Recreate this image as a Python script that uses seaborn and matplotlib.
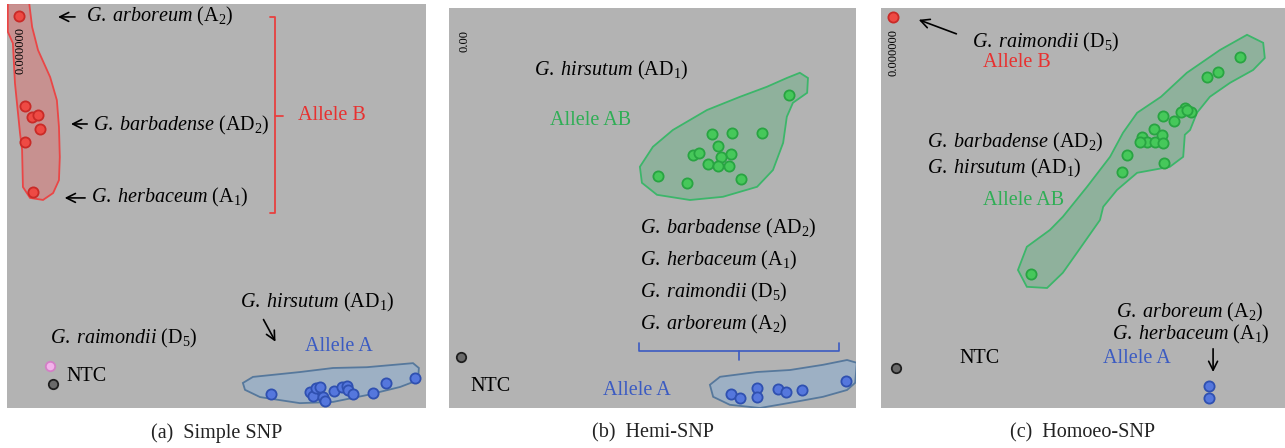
import numpy as np
import pandas as pd
import seaborn as sns
import matplotlib.pyplot as plt

# normalised signal
# x = allele A signal, y = allele B signal (0..1 inside each panel)

# (a) Simple SNP
a_red_x = [0.029, 0.043, 0.060, 0.074, 0.079, 0.043, 0.062]
a_red_y = [0.970, 0.748, 0.720, 0.725, 0.691, 0.658, 0.535]
a_blue_x = [0.630, 0.723, 0.730, 0.737, 0.747, 0.754, 0.759, 0.780, 0.800, 0.811, 0.814, 0.826, 0.874, 0.905, 0.974]
a_blue_y = [0.035, 0.040, 0.030, 0.050, 0.052, 0.027, 0.017, 0.042, 0.052, 0.054, 0.045, 0.035, 0.037, 0.062, 0.074]
a_pink = (0.103, 0.104)
a_ntc = (0.110, 0.059)
a_red_zone_x = [0.053, 0.060, 0.074, 0.103, 0.119, 0.124, 0.126, 0.124, 0.110, 0.086, 0.055, 0.038, 0.036, 0.031, 0.019, 0.014, 0.002, 0.002]
a_red_zone_y = [1.002, 0.943, 0.886, 0.819, 0.762, 0.696, 0.621, 0.564, 0.532, 0.515, 0.520, 0.547, 0.639, 0.681, 0.804, 0.903, 0.931, 1.002]
a_blue_zone_x = [0.563, 0.587, 0.699, 0.778, 0.859, 0.969, 0.983, 0.981, 0.938, 0.859, 0.778, 0.699, 0.604, 0.568]
a_blue_zone_y = [0.062, 0.077, 0.089, 0.099, 0.101, 0.111, 0.099, 0.069, 0.052, 0.032, 0.015, 0.012, 0.027, 0.045]

# (b) Hemi-SNP
b_green_x = [0.835, 0.646, 0.695, 0.769, 0.661, 0.600, 0.614, 0.693, 0.668, 0.636, 0.661, 0.688, 0.514, 0.585, 0.717]
b_green_y = [0.783, 0.685, 0.688, 0.688, 0.655, 0.633, 0.638, 0.635, 0.628, 0.610, 0.605, 0.605, 0.580, 0.563, 0.573]
b_blue_x = [0.693, 0.715, 0.757, 0.757, 0.808, 0.828, 0.867, 0.975]
b_blue_y = [0.035, 0.025, 0.050, 0.028, 0.048, 0.040, 0.045, 0.068]
b_ntc = (0.029, 0.128)
b_green_zone_x = [0.469, 0.501, 0.550, 0.634, 0.715, 0.781, 0.830, 0.862, 0.882, 0.880, 0.845, 0.830, 0.821, 0.796, 0.757, 0.673, 0.592, 0.511, 0.474]
b_green_zone_y = [0.603, 0.653, 0.695, 0.745, 0.778, 0.803, 0.825, 0.838, 0.825, 0.788, 0.763, 0.728, 0.663, 0.595, 0.553, 0.528, 0.520, 0.533, 0.563]
b_blue_zone_x = [0.641, 0.666, 0.757, 0.838, 0.919, 0.978, 1.002, 0.998, 0.978, 0.919, 0.838, 0.764, 0.690, 0.649]
b_blue_zone_y = [0.058, 0.078, 0.090, 0.095, 0.108, 0.120, 0.113, 0.063, 0.045, 0.028, 0.013, 0.000, 0.008, 0.028]

# (c) Homoeo-SNP
c_red = (0.030, 0.978)
c_green_x = [0.889, 0.834, 0.807, 0.752, 0.743, 0.767, 0.757, 0.698, 0.725, 0.676, 0.646, 0.658, 0.678, 0.696, 0.698, 0.641, 0.609, 0.700, 0.597, 0.371]
c_green_y = [0.878, 0.840, 0.828, 0.750, 0.740, 0.740, 0.745, 0.730, 0.718, 0.698, 0.678, 0.665, 0.665, 0.683, 0.663, 0.665, 0.633, 0.613, 0.590, 0.335]
c_blue_x = [0.812, 0.812]
c_blue_y = [0.055, 0.025]
c_ntc = (0.037, 0.100)
c_green_zone_x = [0.906, 0.946, 0.950, 0.921, 0.864, 0.814, 0.782, 0.765, 0.752, 0.748, 0.715, 0.634, 0.584, 0.550, 0.542,
                  0.485, 0.450, 0.411, 0.361, 0.339, 0.361, 0.418, 0.450, 0.510, 0.567, 0.599, 0.634, 0.693, 0.757, 0.839]
c_green_zone_y = [0.933, 0.913, 0.875, 0.845, 0.813, 0.778, 0.738, 0.695, 0.683, 0.628, 0.603, 0.588, 0.545, 0.503, 0.470,
                  0.388, 0.338, 0.300, 0.303, 0.345, 0.403, 0.445, 0.478, 0.553, 0.628, 0.688, 0.738, 0.778, 0.838, 0.895]

captions = ["(a)  Simple SNP", "(b)  Hemi-SNP", "(c)  Homoeo-SNP"]

BG = "#b3b3b3"
RED, RED_EDGE = "#ee4a44", "#c92a27"
GREEN, GREEN_EDGE = "#46c85a", "#28a442"
BLUE, BLUE_EDGE = "#5577dd", "#2f50b0"
RED_TXT, GREEN_TXT, BLUE_TXT = "#e8302f", "#2fae55", "#3b5bc2"

sns.set_style("white")
plt.rcParams['font.family'] = ['Liberation Serif', 'DejaVu Serif']
plt.rcParams['mathtext.fontset'] = 'custom'
plt.rcParams['mathtext.rm'] = 'Liberation Serif'
plt.rcParams['mathtext.it'] = 'Liberation Serif:italic'
plt.rcParams['text.color'] = 'black'

FS = 14.5


def sp(name, sub):
    # italic species name + genome in roman with subscript
    return r"$\mathit{G.\;" + name + r"}$ (" + sub + ")"


def dots(ax, x, y, face, edge, size=54):
    df = pd.DataFrame({"x": x, "y": y})
    sns.scatterplot(data=df, x="x", y="y", ax=ax, s=size, color=face,
                    edgecolor=edge, linewidth=1.3, legend=False, zorder=4)


def arrow(ax, tail, head):
    ax.annotate("", xy=head, xytext=tail,
                arrowprops=dict(arrowstyle="->", lw=1.2, color="black", mutation_scale=16))


fig = plt.figure(figsize=(12.85, 4.48), dpi=100)
W, H = 1285, 448
boxes = [(7, 4, 426, 408), (449, 8, 856, 408), (881, 8, 1285, 408)]
axes = []
for (l, t, r, b) in boxes:
    ax = fig.add_axes([l / W, (H - b) / H, (r - l) / W, (b - t) / H])
    ax.set_facecolor(BG)
    ax.set_xlim(0, 1)
    ax.set_ylim(0, 1)
    ax.set_xticks([])
    ax.set_yticks([])
    for s in ax.spines.values():
        s.set_visible(False)
    axes.append(ax)

# ---------- (a) Simple SNP ----------
ax = axes[0]
ax.fill(a_red_zone_x, a_red_zone_y, facecolor="#c79190", edgecolor="#ea4646", lw=1.3, zorder=2)
ax.fill(a_blue_zone_x, a_blue_zone_y, facecolor="#9db0c4", edgecolor="#56789c", lw=1.3, zorder=2)
dots(ax, a_red_x, a_red_y, RED, RED_EDGE)
dots(ax, a_blue_x, a_blue_y, BLUE, BLUE_EDGE)
dots(ax, [a_pink[0]], [a_pink[1]], "#f2b2ea", "#d37fc6", size=46)
dots(ax, [a_ntc[0]], [a_ntc[1]], "#6a6a6a", "#1e1e1e", size=46)
ax.set_xlabel("")
ax.set_ylabel("")
ax.text(0.033, 0.884, "0.000000", rotation=90, fontsize=9, ha="center", va="center", zorder=5)
ax.text(0.189, 0.968, sp("arboreum", "A$_2$"), fontsize=FS, va="center")
arrow(ax, (0.169, 0.968), (0.115, 0.968))
ax.text(0.205, 0.700, sp("barbadense", "AD$_2$"), fontsize=FS, va="center")
arrow(ax, (0.198, 0.703), (0.146, 0.703))
ax.text(0.200, 0.520, sp("herbaceum", "A$_1$"), fontsize=FS, va="center")
arrow(ax, (0.193, 0.520), (0.131, 0.520))
ax.plot([0.628, 0.640, 0.640, 0.628], [0.968, 0.968, 0.483, 0.483], color="#e8403f", lw=1.3)
ax.plot([0.640, 0.659], [0.723, 0.723], color="#e8403f", lw=1.3)
ax.text(0.695, 0.723, "Allele B", color=RED_TXT, fontsize=FS, va="center")
ax.text(0.103, 0.171, sp("raimondii", "D$_5$"), fontsize=FS, va="center")
ax.text(0.143, 0.079, "NTC", fontsize=FS, va="center")
ax.text(0.556, 0.260, sp("hirsutum", "AD$_1$"), fontsize=FS, va="center")
arrow(ax, (0.609, 0.225), (0.644, 0.158))
ax.text(0.711, 0.151, "Allele A", color=BLUE_TXT, fontsize=FS, va="center")

# ---------- (b) Hemi-SNP ----------
ax = axes[1]
ax.fill(b_green_zone_x, b_green_zone_y, facecolor="#8fb19c", edgecolor="#3cb66a", lw=1.3, zorder=2)
ax.fill(b_blue_zone_x, b_blue_zone_y, facecolor="#9db0c4", edgecolor="#56789c", lw=1.3, zorder=2)
dots(ax, b_green_x, b_green_y, GREEN, GREEN_EDGE)
dots(ax, b_blue_x, b_blue_y, BLUE, BLUE_EDGE)
dots(ax, [b_ntc[0]], [b_ntc[1]], "#6a6a6a", "#1e1e1e", size=46)
ax.set_xlabel("")
ax.set_ylabel("")
ax.text(0.039, 0.918, "0.00", rotation=90, fontsize=9, ha="center", va="center")
ax.text(0.209, 0.843, sp("hirsutum", "AD$_1$"), fontsize=FS, va="center")
ax.text(0.248, 0.718, "Allele AB", color=GREEN_TXT, fontsize=FS, va="center")
ax.text(0.469, 0.450, sp("barbadense", "AD$_2$"), fontsize=FS, va="center")
ax.text(0.469, 0.368, sp("herbaceum", "A$_1$"), fontsize=FS, va="center")
ax.text(0.469, 0.288, sp("raimondii", "D$_5$"), fontsize=FS, va="center")
ax.text(0.469, 0.208, sp("arboreum", "A$_2$"), fontsize=FS, va="center")
ax.plot([0.467, 0.467, 0.958, 0.958], [0.163, 0.143, 0.143, 0.163], color=BLUE_TXT, lw=1.2)
ax.plot([0.713, 0.713], [0.143, 0.120], color=BLUE_TXT, lw=1.2)
ax.text(0.052, 0.053, "NTC", fontsize=FS, va="center")
ax.text(0.378, 0.045, "Allele A", color=BLUE_TXT, fontsize=FS, va="center")

# ---------- (c) Homoeo-SNP ----------
ax = axes[2]
ax.fill(c_green_zone_x, c_green_zone_y, facecolor="#8fb19c", edgecolor="#3cb66a", lw=1.3, zorder=2)
dots(ax, [c_red[0]], [c_red[1]], RED, RED_EDGE)
dots(ax, c_green_x, c_green_y, GREEN, GREEN_EDGE)
dots(ax, c_blue_x, c_blue_y, BLUE, BLUE_EDGE)
dots(ax, [c_ntc[0]], [c_ntc[1]], "#6a6a6a", "#1e1e1e", size=46)
ax.set_xlabel("")
ax.set_ylabel("")
ax.text(0.030, 0.888, "0.000000", rotation=90, fontsize=9, ha="center", va="center")
ax.text(0.225, 0.913, sp("raimondii", "D$_5$"), fontsize=FS, va="center")
arrow(ax, (0.193, 0.933), (0.087, 0.973))
ax.text(0.252, 0.863, "Allele B", color=RED_TXT, fontsize=FS, va="center")
ax.text(0.114, 0.663, sp("barbadense", "AD$_2$"), fontsize=FS, va="center")
ax.text(0.114, 0.600, sp("hirsutum", "AD$_1$"), fontsize=FS, va="center")
ax.text(0.252, 0.520, "Allele AB", color=GREEN_TXT, fontsize=FS, va="center")
ax.text(0.765, 0.240, sp("arboreum", "A$_2$"), fontsize=FS, va="center", ha="center")
ax.text(0.767, 0.183, sp("herbaceum", "A$_1$"), fontsize=FS, va="center", ha="center")
arrow(ax, (0.822, 0.155), (0.822, 0.083))
ax.text(0.550, 0.123, "Allele A", color=BLUE_TXT, fontsize=FS, va="center")
ax.text(0.193, 0.123, "NTC", fontsize=FS, va="center")

for ax, cap in zip(axes, captions):
    ax.text(0.5, -0.062, cap, transform=ax.transAxes, fontsize=FS, ha="center", va="center",
            color="#222222", clip_on=False)

fig.savefig("out.png", dpi=100)
